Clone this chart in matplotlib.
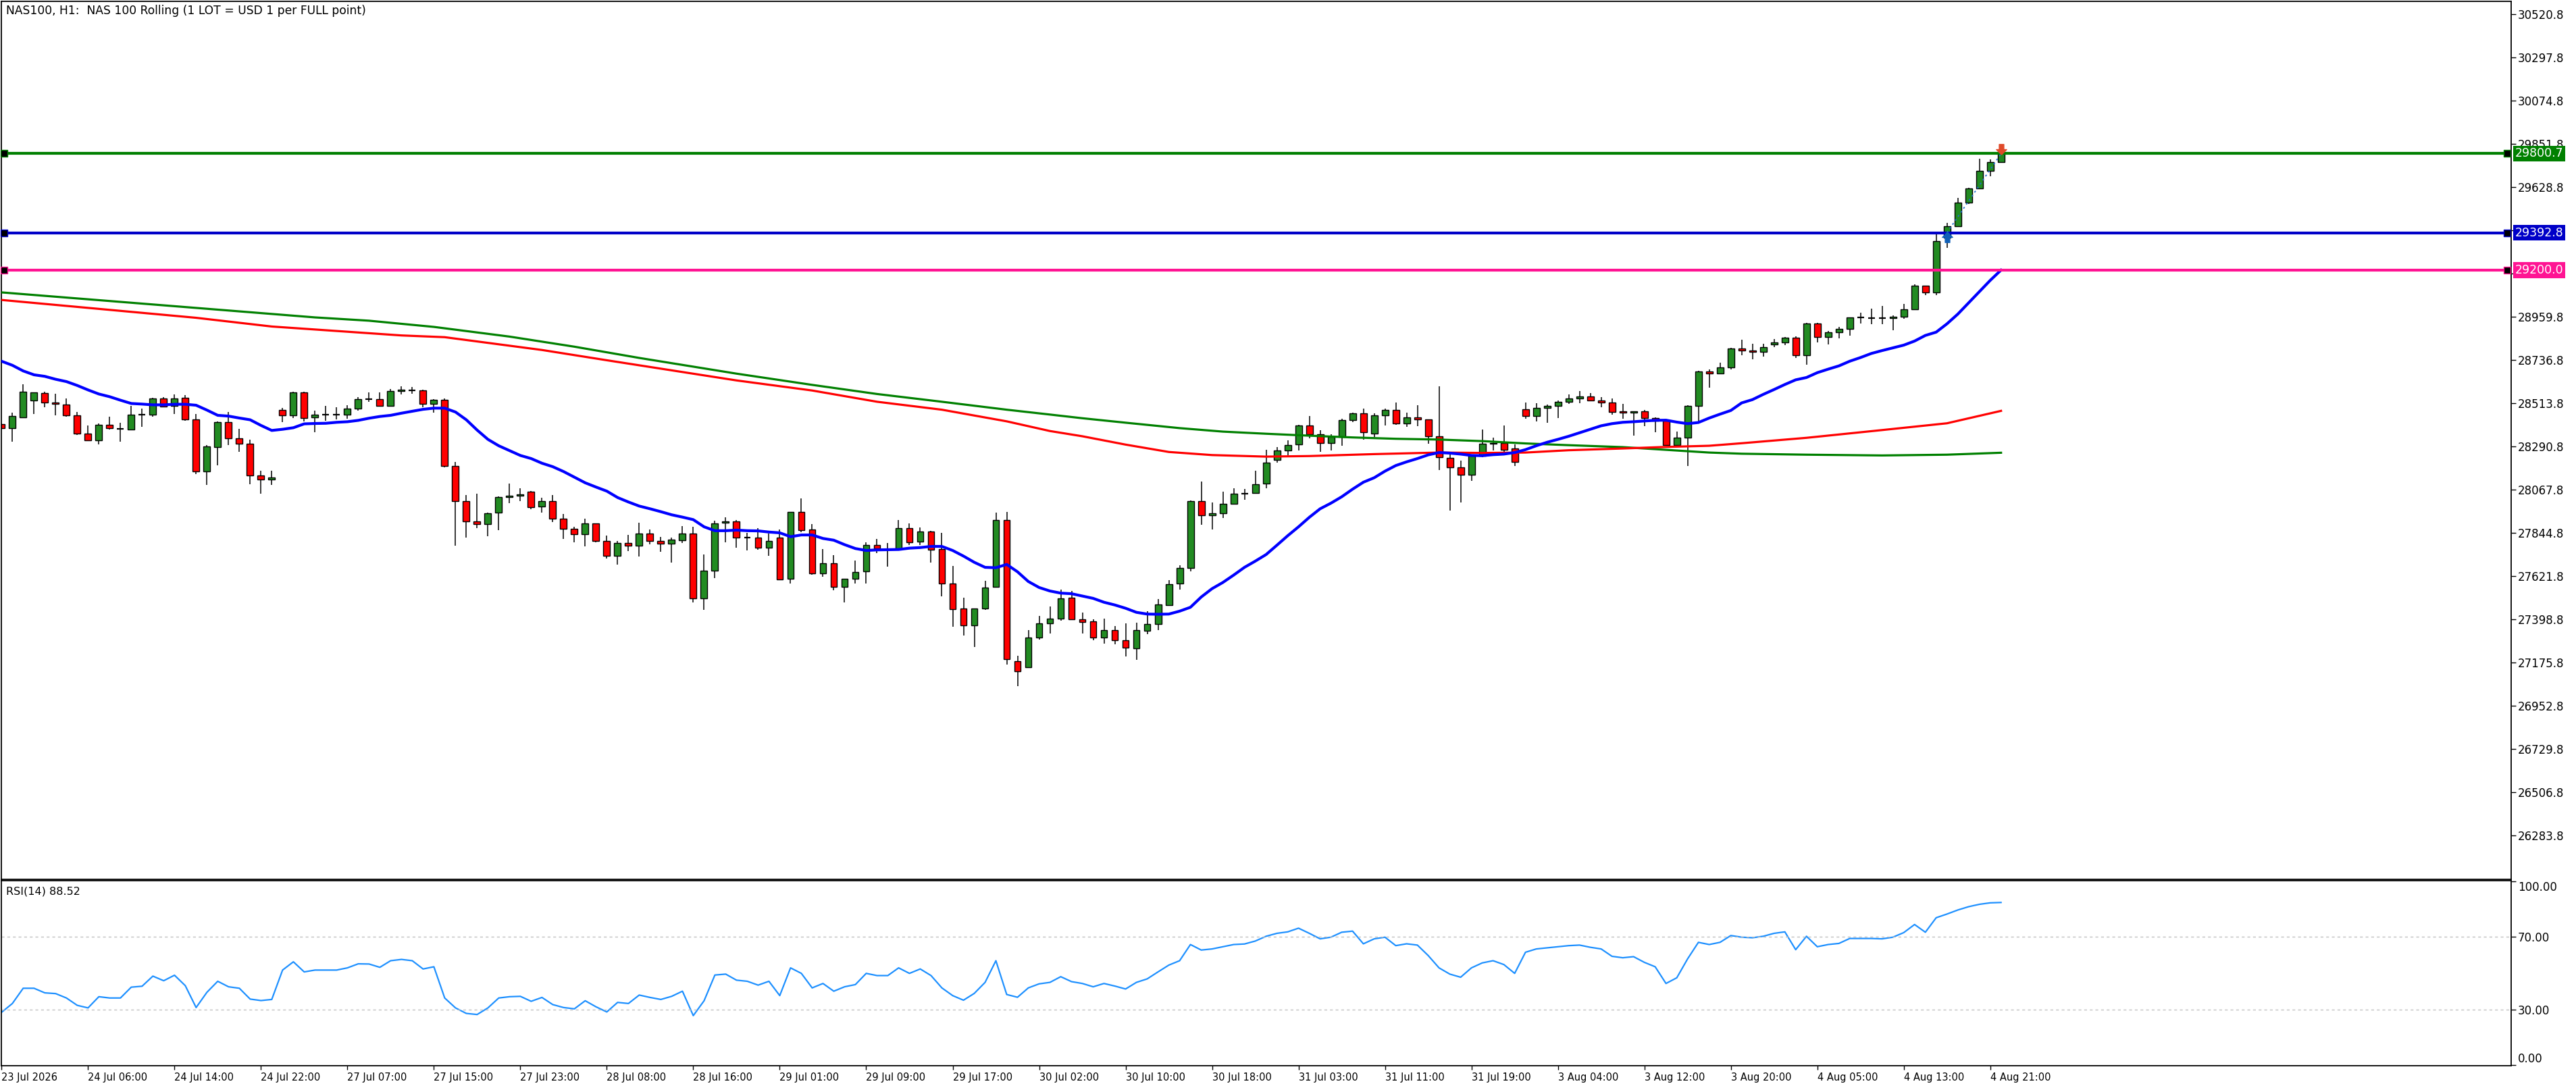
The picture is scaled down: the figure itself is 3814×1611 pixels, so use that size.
import matplotlib
matplotlib.use("Agg")
import matplotlib.pyplot as plt
from matplotlib.path import Path
from matplotlib.transforms import blended_transform_factory

plt.rcParams['font.family'] = ['DejaVu Sans']

# ---- data (NAS100, H1) ----
opens = [28404, 28384, 28439, 28526, 28565, 28516, 28505, 28450, 28356, 28321,
         28401, 28382, 28379, 28455, 28456, 28537, 28498, 28540, 28429, 28161,
         28286, 28415, 28331, 28303, 28140, 28119, 28478, 28450, 28568, 28439,
         28453, 28454, 28453, 28485, 28533, 28533, 28498, 28575, 28581, 28579,
         28509, 28530, 28189, 28010, 27903, 27889, 27948, 28028, 28035, 28056,
         27980, 28007, 27917, 27865, 27837, 27892, 27802, 27725, 27791, 27777,
         27840, 27802, 27788, 27805, 27840, 27506, 27649, 27896, 27903, 27819,
         27819, 27767, 27819, 27607, 27952, 27861, 27635, 27687, 27565, 27607,
         27645, 27781, 27758, 27760, 27868, 27798, 27851, 27760, 27582, 27454,
         27367, 27454, 27565, 27910, 27182, 27151, 27304, 27377, 27401, 27509,
         27398, 27387, 27304, 27342, 27290, 27248, 27339, 27374, 27471, 27582,
         27663, 28007, 27934, 27945, 27993, 28047, 28049, 28098, 28220, 28269,
         28300, 28398, 28352, 28307, 28338, 28425, 28460, 28356, 28450, 28478,
         28408, 28439, 28429, 28342, 28230, 28182, 28143, 28241, 28307, 28307,
         28279, 28481, 28446, 28488, 28498, 28519, 28537, 28547, 28526, 28516,
         28471, 28464, 28471, 28436, 28422, 28296, 28335, 28498, 28676, 28666,
         28697, 28795, 28784, 28777, 28815, 28826, 28850, 28760, 28923, 28854,
         28878, 28896, 28955, 28952, 28951, 28951, 28958, 28997, 29118, 29084,
         29368, 29425, 29547, 29620, 29711, 29756]
highs = [28410, 28465, 28611, 28568, 28572, 28562, 28538, 28468, 28399, 28408,
         28444, 28412, 28501, 28486, 28541, 28544, 28559, 28555, 28458, 28296,
         28418, 28468, 28381, 28325, 28165, 28165, 28489, 28572, 28572, 28474,
         28500, 28493, 28503, 28544, 28569, 28569, 28587, 28601, 28596, 28584,
         28534, 28537, 28209, 28040, 28047, 27949, 28033, 28099, 28075, 28062,
         28026, 28040, 27942, 27876, 27917, 27892, 27831, 27803, 27834, 27897,
         27861, 27824, 27819, 27880, 27876, 27733, 27908, 27925, 27910, 27845,
         27869, 27841, 27861, 27952, 28022, 27890, 27761, 27730, 27607, 27702,
         27795, 27813, 27793, 27911, 27894, 27873, 27854, 27845, 27674, 27510,
         27454, 27598, 27949, 27953, 27211, 27343, 27416, 27465, 27551, 27545,
         27433, 27398, 27403, 27363, 27378, 27380, 27440, 27504, 27601, 27678,
         28011, 28110, 28002, 28057, 28075, 28071, 28165, 28273, 28287, 28322,
         28401, 28447, 28373, 28352, 28432, 28464, 28486, 28460, 28486, 28517,
         28465, 28503, 28429, 28599, 28248, 28218, 28248, 28378, 28336, 28399,
         28300, 28517, 28514, 28505, 28526, 28559, 28576, 28566, 28545, 28538,
         28510, 28471, 28479, 28439, 28429, 28367, 28503, 28680, 28686, 28723,
         28798, 28841, 28820, 28820, 28844, 28854, 28857, 28927, 28927, 28885,
         28906, 28955, 28979, 29000, 29014, 28965, 29024, 29125, 29118, 29387,
         29442, 29571, 29623, 29774, 29770, 29803]
lows = [28380, 28316, 28439, 28459, 28494, 28452, 28445, 28351, 28317, 28302,
        28379, 28316, 28375, 28393, 28445, 28491, 28459, 28424, 28149, 28093,
        28194, 28299, 28264, 28097, 28048, 28093, 28417, 28438, 28420, 28365,
        28424, 28431, 28433, 28476, 28519, 28498, 28498, 28558, 28564, 28492,
        28466, 28182, 27780, 27822, 27870, 27829, 27860, 27999, 28010, 27968,
        27950, 27902, 27815, 27797, 27776, 27797, 27714, 27682, 27752, 27724,
        27787, 27748, 27693, 27794, 27487, 27449, 27613, 27797, 27769, 27755,
        27759, 27728, 27603, 27585, 27849, 27630, 27620, 27550, 27487, 27585,
        27585, 27742, 27672, 27760, 27781, 27783, 27693, 27516, 27362, 27317,
        27257, 27447, 27562, 27167, 27055, 27147, 27295, 27327, 27391, 27394,
        27327, 27290, 27275, 27269, 27209, 27191, 27324, 27344, 27467, 27551,
        27648, 27888, 27863, 27923, 27993, 28017, 28046, 28076, 28206, 28244,
        28271, 28331, 28264, 28271, 28295, 28415, 28324, 28341, 28400, 28403,
        28393, 28396, 28306, 28170, 27960, 28000, 28114, 28234, 28269, 28262,
        28191, 28435, 28421, 28414, 28438, 28509, 28515, 28526, 28494, 28453,
        28435, 28348, 28396, 28365, 28294, 28294, 28191, 28418, 28595, 28666,
        28687, 28760, 28741, 28755, 28801, 28812, 28746, 28713, 28826, 28815,
        28849, 28861, 28923, 28920, 28920, 28889, 28948, 28997, 29070, 29072,
        29313, 29421, 29540, 29617, 29683, 29752]
closes = [28384, 28446, 28572, 28568, 28516, 28509, 28450, 28356, 28321, 28401,
          28384, 28382, 28453, 28455, 28537, 28497, 28537, 28429, 28161, 28289,
          28415, 28331, 28303, 28140, 28119, 28129, 28450, 28568, 28436, 28453,
          28453, 28454, 28484, 28533, 28533, 28498, 28575, 28582, 28581, 28509,
          28530, 28189, 28010, 27903, 27889, 27945, 28028, 28036, 28042, 27976,
          28007, 27917, 27865, 27837, 27892, 27802, 27725, 27791, 27777, 27840,
          27802, 27788, 27809, 27840, 27506, 27649, 27892, 27903, 27819, 27819,
          27767, 27802, 27603, 27952, 27858, 27635, 27687, 27565, 27607, 27642,
          27781, 27764, 27758, 27868, 27795, 27851, 27757, 27582, 27450, 27367,
          27454, 27562, 27910, 27192, 27130, 27304, 27377, 27401, 27506, 27398,
          27384, 27304, 27342, 27290, 27252, 27342, 27374, 27474, 27579, 27663,
          28007, 27934, 27945, 27993, 28046, 28047, 28094, 28206, 28269, 28297,
          28398, 28352, 28307, 28338, 28425, 28460, 28363, 28450, 28478, 28408,
          28439, 28429, 28342, 28234, 28182, 28143, 28241, 28303, 28303, 28272,
          28209, 28446, 28488, 28498, 28519, 28537, 28547, 28526, 28516, 28467,
          28464, 28471, 28436, 28422, 28296, 28335, 28498, 28676, 28666, 28697,
          28795, 28784, 28777, 28801, 28826, 28850, 28760, 28923, 28854, 28878,
          28896, 28955, 28955, 28952, 28951, 28958, 28997, 29118, 29084, 29348,
          29425, 29547, 29620, 29711, 29756, 29801]

ma_fast = [28730, 28709, 28680, 28660, 28652, 28637, 28625, 28605, 28582, 28561,
           28547, 28529, 28512, 28509, 28505, 28505, 28508, 28508, 28503, 28478,
           28451, 28447, 28437, 28428, 28399, 28373, 28379, 28387, 28407, 28409,
           28410, 28415, 28418, 28425, 28436, 28445, 28451, 28462, 28472, 28482,
           28488, 28488, 28468, 28428, 28375, 28327, 28294, 28269, 28244, 28228,
           28204, 28186, 28161, 28132, 28103, 28081, 28060, 28027, 28004, 27983,
           27969, 27954, 27938, 27926, 27913, 27876, 27856, 27856, 27859, 27856,
           27855, 27849, 27845, 27825, 27834, 27834, 27816, 27807, 27784, 27764,
           27754, 27757, 27758, 27759, 27766, 27769, 27775, 27775, 27754, 27725,
           27693, 27667, 27665, 27682, 27644, 27594, 27563, 27545, 27534, 27531,
           27519, 27507, 27487, 27473, 27456, 27435, 27426, 27425, 27426, 27441,
           27461, 27514, 27557, 27589, 27627, 27667, 27699, 27733, 27781, 27830,
           27876, 27925, 27969, 27998, 28031, 28070, 28106, 28129, 28163, 28192,
           28211, 28228, 28247, 28259, 28256, 28251, 28244, 28243, 28248, 28251,
           28259, 28274, 28294, 28312, 28327, 28343, 28361, 28379, 28397, 28408,
           28415, 28418, 28422, 28425, 28426, 28416, 28408, 28414, 28437, 28457,
           28476, 28515, 28532, 28559, 28584, 28610, 28634, 28646, 28671, 28689,
           28706, 28730, 28749, 28770, 28785, 28799, 28813, 28834, 28863, 28880,
           28923, 28973, 29031, 29089, 29147, 29200]

ma_red_bars = [0, 18, 25, 31, 37, 41, 50, 56, 62, 68, 75, 81, 87, 93, 97, 100,
               104, 108, 112, 117, 121, 127, 133, 137, 141, 145, 150, 154, 158,
               161, 167, 174, 180, 185]
ma_red = [29046, 28954, 28909, 28886, 28863, 28854, 28788, 28735, 28683, 28631,
          28579, 28521, 28480, 28420, 28370, 28343, 28300, 28262, 28246, 28238,
          28241, 28251, 28259, 28257, 28259, 28271, 28280, 28288, 28294, 28307,
          28335, 28375, 28410, 28474]

ma_green_bars = [0, 29, 34, 40, 47, 53, 59, 68, 75, 81, 87, 93, 97, 100, 104,
                 109, 113, 117, 121, 125, 129, 133, 137, 141, 145, 150, 154, 158,
                 161, 167, 174, 180, 185]
ma_green = [29085, 28956, 28939, 28907, 28857, 28805, 28747, 28666, 28608, 28561,
            28521, 28480, 28455, 28436, 28413, 28385, 28367, 28356, 28346, 28337,
            28330, 28326, 28318, 28306, 28297, 28287, 28273, 28259, 28253, 28248,
            28244, 28248, 28258]

rsi = [28.7, 33.5, 41.8, 41.8, 39.3, 38.9, 36.5, 32.5, 31.1, 37.2,
       36.5, 36.5, 42.4, 42.9, 48.4, 45.9, 48.9, 43.2, 31.3, 39.6,
       45.6, 42.6, 41.8, 35.9, 35.1, 35.7, 51.7, 56.2, 50.7, 51.7,
       51.7, 51.7, 52.9, 55.1, 55.0, 53.2, 56.8, 57.5, 56.8, 52.3,
       53.5, 36.5, 31.1, 28.1, 27.5, 31.1, 36.5, 37.2, 37.4, 34.7,
       36.8, 32.9, 31.3, 30.6, 35.0, 31.7, 28.9, 34.1, 33.5, 38.1,
       36.8, 35.7, 37.4, 40.2, 26.9, 35.0, 49.0, 49.5, 46.2, 45.6,
       43.5, 45.6, 37.8, 52.9, 49.9, 42.0, 44.4, 40.2, 42.6, 43.8,
       49.9, 48.7, 48.7, 52.9, 49.9, 52.3, 48.7, 42.0, 37.8, 35.3,
       39.0, 45.0, 56.8, 38.4, 36.9, 42.0, 44.2, 45.0, 48.1, 45.4,
       44.4, 42.6, 44.4, 43.0, 41.4, 45.0, 46.9, 50.7, 54.4, 56.8,
       65.6, 62.6, 63.2, 64.4, 65.6, 65.9, 67.5, 70.1, 71.7, 72.5,
       74.5, 71.7, 68.7, 69.6, 72.3, 72.9, 66.0, 68.7, 69.6, 65.0,
       66.0, 65.3, 59.6, 52.9, 49.5, 47.8, 52.9, 55.6, 56.8, 54.7,
       49.9, 61.4, 63.2, 63.8, 64.4, 65.0, 65.3, 64.1, 63.2, 59.2,
       58.4, 59.0, 55.9, 53.5, 44.4, 47.5, 57.8, 66.8, 65.6, 66.8,
       70.5, 69.6, 69.3, 70.1, 71.7, 72.5, 62.8, 70.1, 64.4, 65.6,
       66.2, 68.9, 68.9, 68.9, 68.7, 69.6, 72.1, 76.5, 72.3, 80.2,
       82.2, 84.4, 86.2, 87.5, 88.3, 88.5]

levels = [29800.7, 29392.8, 29200.0]
level_colors = ['#008000', '#0000c8', '#ff1493']

price_ticks = [30520.8, 30297.8, 30074.8, 29851.8, 29628.8, 29405.8, 29182.8,
               28959.8, 28736.8, 28513.8, 28290.8, 28067.8, 27844.8, 27621.8,
               27398.8, 27175.8, 26952.8, 26729.8, 26506.8, 26283.8]

time_labels = ['23 Jul 2026', '24 Jul 06:00', '24 Jul 14:00', '24 Jul 22:00',
               '27 Jul 07:00', '27 Jul 15:00', '27 Jul 23:00', '28 Jul 08:00',
               '28 Jul 16:00', '29 Jul 01:00', '29 Jul 09:00', '29 Jul 17:00',
               '30 Jul 02:00', '30 Jul 10:00', '30 Jul 18:00', '31 Jul 03:00',
               '31 Jul 11:00', '31 Jul 19:00', '3 Aug 04:00', '3 Aug 12:00',
               '3 Aug 20:00', '4 Aug 05:00', '4 Aug 13:00', '4 Aug 21:00']

buy_bar, buy_price = 180, 29392.8
sell_bar, sell_price = 185, 29800.7

# ---- layout ----
W, H = 3814, 1611
fig = plt.figure(figsize=(W / 100, H / 100), dpi=100)
fig.patch.set_facecolor('white')
ax = fig.add_axes([2 / W, 1 - 1302 / H, 3716 / W, 1300 / H])
ax_rsi = fig.add_axes([2 / W, 1 - 1578 / H, 3716 / W, 274 / H])

n = len(closes)
xs = list(range(n))
xlim = (-0.02, 232.2)

# candles
body_w = 0.62
for i in xs:
    o, h, l, c = opens[i], highs[i], lows[i], closes[i]
    ax.vlines(i, l, h, color='black', lw=1.1, zorder=1)
    if c == o:
        ax.hlines(c, i - body_w / 2, i + body_w / 2, color='black', lw=1.6, zorder=2)
    else:
        col = '#228b22' if c > o else '#ff0000'
        ax.bar(i, abs(c - o), bottom=min(o, c), width=body_w, color=col,
               edgecolor='black', linewidth=1.0, zorder=2)

# moving averages
ax.plot(ma_green_bars, ma_green, color='#008000', lw=2.3, zorder=3)
ax.plot(ma_red_bars, ma_red, color='#ff0000', lw=2.3, zorder=3)
ax.plot(xs, ma_fast, color='#0000ff', lw=3.0, zorder=3)

# horizontal levels with end markers and price boxes
trans = blended_transform_factory(ax.transAxes, ax.transData)
for lv, col in zip(levels, level_colors):
    ax.axhline(lv, color=col, lw=3.0, zorder=4)
    ax.plot([0.25, 231.85], [lv, lv], ls='none', marker='s', ms=7,
            mfc='black', mec=col, mew=1, zorder=5, clip_on=False)
    ax.text(1.0016, lv, f'{lv:.1f}', transform=trans, color='white',
            fontsize=12.5, va='center', ha='left', zorder=6, clip_on=False,
            bbox=dict(boxstyle='square,pad=0.15', fc=col, ec='none'))

# trade arrows and dotted connector
ax.plot([buy_bar, sell_bar], [buy_price, sell_price], color='#1e6fd0',
        ls=(0, (1.5, 2.5)), lw=1.3, zorder=4)
up_arrow = Path([(0, 1), (-1, 0), (-0.45, 0), (-0.45, -1), (0.45, -1),
                 (0.45, 0), (1, 0), (0, 1)])
down_arrow = Path([(0, -1), (-1, 0), (-0.45, 0), (-0.45, 1), (0.45, 1),
                   (0.45, 0), (1, 0), (0, -1)])
ax.plot(buy_bar, buy_price - 22, marker=up_arrow, ms=11, color='#1060b8',
        mec='#1060b8', zorder=6)
ax.plot(sell_bar, sell_price + 24, marker=down_arrow, ms=11, color='#e04a2a',
        mec='#e04a2a', zorder=6)

ax.set_xlim(*xlim)
ax.set_ylim(26058, 30586)
ax.set_xticks([])
ax.yaxis.tick_right()
ax.set_yticks(price_ticks)
ax.set_yticklabels([f'{t:.1f}' for t in price_ticks])
ax.tick_params(axis='y', direction='out', length=5, width=1, labelsize=12,
               pad=2, colors='black')
for s in ax.spines.values():
    s.set_linewidth(1.3)
    s.set_color('black')

ax.text(0.002, 0.9895, 'NAS100, H1:  NAS 100 Rolling (1 LOT = USD 1 per FULL point)',
        transform=ax.transAxes, fontsize=12.3, va='center', ha='left')

# RSI panel
ax_rsi.plot(xs, rsi, color='#1e90ff', lw=1.6)
for lv in (70, 30):
    ax_rsi.axhline(lv, color='#c0c0c0', lw=1.0, ls=(0, (3, 3)))
ax_rsi.set_xlim(*xlim)
ax_rsi.set_ylim(-0.37, 100.37)
ax_rsi.yaxis.tick_right()
ax_rsi.set_yticks([0, 30, 70, 100])
ax_rsi.set_yticklabels(['0.00', '30.00', '70.00', '100.00'])
ax_rsi.tick_params(axis='y', direction='out', length=5, width=1, labelsize=12, pad=2)
ylabels = ax_rsi.get_yticklabels()
ylabels[0].set_va('bottom')
ylabels[3].set_va('top')
ax_rsi.set_xticks(list(range(0, 8 * len(time_labels), 8)))
ax_rsi.set_xticklabels(time_labels, ha='left')
ax_rsi.tick_params(axis='x', direction='out', length=4, width=1, labelsize=10.5, pad=3)
for s in ax_rsi.spines.values():
    s.set_linewidth(1.3)
    s.set_color('black')
ax_rsi.text(0.002, 0.94, f'RSI(14) {88.52:.2f}', transform=ax_rsi.transAxes,
            fontsize=11.5, va='center', ha='left')

fig.savefig('out.png', dpi=100, facecolor='white')
